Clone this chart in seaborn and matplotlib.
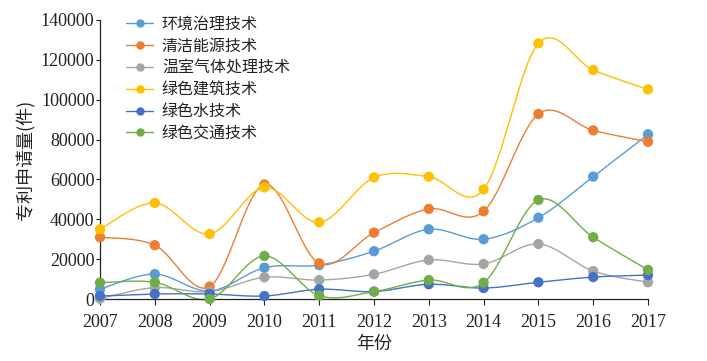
import numpy as np
import pandas as pd
import matplotlib
matplotlib.use("Agg")
import matplotlib.pyplot as plt
from matplotlib.lines import Line2D
import seaborn as sns

years = [2007, 2008, 2009, 2010, 2011, 2012, 2013, 2014, 2015, 2016, 2017]

huanjing = [4900, 12500, 4000, 15700, 17000, 24000, 35000, 30000, 40800, 61400, 82600]
qingjie = [31000, 27000, 6200, 57500, 17900, 33300, 45200, 44000, 92800, 84600, 78900]
wenshi = [200, 5700, 3700, 10900, 9500, 12400, 19600, 17600, 27600, 14000, 8400]
jianzhu = [35000, 48200, 32600, 56000, 38500, 61000, 61400, 55000, 128300, 114900, 105200]
shui = [1500, 2500, 2500, 1500, 4900, 3700, 7400, 5500, 8400, 11000, 12000]
jiaotong = [8200, 8400, 0, 21600, 1700, 3700, 9500, 8200, 49700, 31000, 14600]

names = ["环境治理技术", "清洁能源技术", "温室气体处理技术", "绿色建筑技术", "绿色水技术", "绿色交通技术"]
series = [huanjing, qingjie, wenshi, jianzhu, shui, jiaotong]
colors = ["#5B9BD5", "#ED7D31", "#A5A5A5", "#FFC000", "#4472C4", "#70AD47"]


def smooth_curve(xs, ys, n=30):
    # Excel-like smoothed line: cubic Bezier with Catmull-Rom control points
    p = np.column_stack([xs, ys]).astype(float)
    pts = []
    for i in range(len(p) - 1):
        p0 = p[i - 1] if i > 0 else p[i]
        p1, p2 = p[i], p[i + 1]
        p3 = p[i + 2] if i + 2 < len(p) else p[i + 1]
        c1 = p1 + (p2 - p0) / 6
        c2 = p2 - (p3 - p1) / 6
        t = np.linspace(0, 1, n, endpoint=(i == len(p) - 2))[:, None]
        b = ((1 - t) ** 3) * p1 + 3 * ((1 - t) ** 2) * t * c1 + 3 * (1 - t) * t ** 2 * c2 + t ** 3 * p2
        pts.append(b)
    pts = np.vstack(pts)
    return pts[:, 0], pts[:, 1]


sns.set_theme(style="ticks")
plt.rcParams["font.family"] = ["Liberation Serif", "Noto Sans CJK SC"]
plt.rcParams["axes.unicode_minus"] = False

fig = plt.figure(figsize=(7.07, 3.61), dpi=100)
ax = fig.add_axes([100 / 707, 62 / 361, 548 / 707, 279 / 361])

handles = []
for name, vals, col in zip(names, series, colors):
    sx, sy = smooth_curve(years, vals)
    curve = pd.DataFrame({"x": sx, "y": sy})
    sns.lineplot(data=curve, x="x", y="y", ax=ax, color=col, linewidth=1.0,
                 estimator=None, sort=False, legend=False)
    pts = pd.DataFrame({"x": years, "y": vals})
    sns.scatterplot(data=pts, x="x", y="y", ax=ax, color=col, s=55,
                    edgecolor="none", legend=False, zorder=3, clip_on=False)
    handles.append(Line2D([], [], color=col, linewidth=1.0, marker="o",
                          markersize=6, markeredgewidth=0))

for line in ax.lines:
    line.set_clip_on(False)

ax.set_xlim(2007, 2017)
ax.set_ylim(0, 140000)
ax.set_xticks(years)
ax.set_yticks(np.arange(0, 140001, 20000))
ax.tick_params(axis="both", labelsize=13, colors="#222222", width=0.8)
ax.tick_params(axis="y", length=3, pad=1)
ax.tick_params(axis="x", length=4, pad=7)
for s in ["top", "right"]:
    ax.spines[s].set_visible(False)
for s in ["left", "bottom"]:
    ax.spines[s].set_color("#222222")
    ax.spines[s].set_linewidth(0.9)

ax.set_xlabel("年份", fontsize=13, family=["Noto Sans CJK SC"], labelpad=3, color="#222222")
ax.set_ylabel("专利申请量(件)", fontsize=13, family=["Noto Sans CJK SC"], labelpad=4, color="#222222")

leg = ax.legend(handles, names, loc="upper left", bbox_to_anchor=(126 / 707, 1 - 16 / 361),
                bbox_transform=fig.transFigure, frameon=False, borderpad=0, borderaxespad=0,
                handlelength=1.7, handletextpad=0.55, labelspacing=0.3,
                prop={"family": ["Noto Sans CJK SC"], "size": 11.5})
for t in leg.get_texts():
    t.set_color("#222222")

fig.savefig("out.png", dpi=100)
